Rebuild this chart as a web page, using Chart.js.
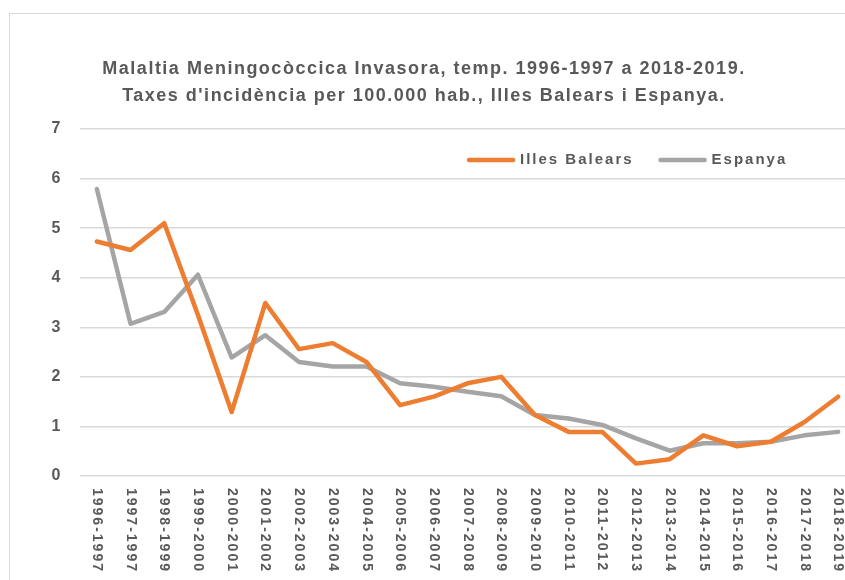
<!DOCTYPE html>
<html>
<head>
<meta charset="utf-8">
<script src="https://cdn.jsdelivr.net/npm/chart.js@4"></script>
<style>
  html, body { margin: 0; width: 845px; height: 580px; overflow: hidden; background: #fff; }
  #frame { position: absolute; left: 9px; top: 13px; width: 900px; height: 700px; border: 1px solid #d9d9d9; overflow: hidden; }
  #chart { position: absolute; left: -17px; top: 0; }
</style>
</head>
<body>
<div id="frame"><canvas id="chart" width="867" height="600"></canvas></div>
<script>
const periods = ["1996-1997", "1997-1997", "1998-1999", "1999-2000", "2000-2001", "2001-2002",
  "2002-2003", "2003-2004", "2004-2005", "2005-2006", "2006-2007", "2007-2008", "2008-2009",
  "2009-2010", "2010-2011", "2011-2012", "2012-2013", "2013-2014", "2014-2015", "2015-2016",
  "2016-2017", "2017-2018", "2018-2019"];
const balears = [4.73, 4.56, 5.10, 3.25, 1.29, 3.49, 2.56, 2.68, 2.30, 1.43, 1.60, 1.87, 2.00,
  1.23, 0.89, 0.89, 0.25, 0.34, 0.82, 0.60, 0.69, 1.09, 1.60];
const espanya = [5.79, 3.07, 3.31, 4.06, 2.39, 2.84, 2.30, 2.21, 2.21, 1.87, 1.80, 1.70, 1.61,
  1.23, 1.16, 1.03, 0.76, 0.51, 0.66, 0.66, 0.69, 0.82, 0.89];
const yTicks = [0, 1, 2, 3, 4, 5, 6, 7];
const titleLines = ["Malaltia Meningocòccica Invasora, temp. 1996-1997 a 2018-2019.",
  "Taxes d'incidència per 100.000 hab., Illes Balears i Espanya."];

const fontFam = "'Liberation Sans', Arial, sans-serif";
const textCol = "#595959";

// x labels read top-to-bottom, legend sits inside the plot
const extras = {
  id: "extras",
  beforeDraw(chart) {
    // spaced-out lettering like the original, used by the title
    chart.ctx.letterSpacing = "1.5px";
  },
  beforeDatasetsDraw(chart) {
    chart.ctx.letterSpacing = "0px";
  },
  afterDraw(chart) {
    const ctx = chart.ctx;
    const xs = chart.scales.x;
    const area = chart.chartArea;
    ctx.save();
    ctx.fillStyle = textCol;
    ctx.font = "bold 14px " + fontFam;
    ctx.letterSpacing = "2px";
    ctx.textAlign = "left";
    ctx.textBaseline = "middle";
    periods.forEach((p, i) => {
      ctx.save();
      ctx.translate(xs.getPixelForTick(i), area.bottom + 12);
      ctx.rotate(Math.PI / 2);
      ctx.fillText(p, 0, 0);
      ctx.restore();
    });
    ctx.restore();

    // legend
    ctx.save();
    ctx.font = "bold 15px " + fontFam;
    ctx.letterSpacing = "2px";
    ctx.textBaseline = "middle";
    ctx.lineCap = "round";
    let x = 476;
    const y = 146;
    chart.data.datasets.forEach(ds => {
      ctx.strokeStyle = ds.borderColor;
      ctx.lineWidth = 4.5;
      ctx.beginPath();
      ctx.moveTo(x, y);
      ctx.lineTo(x + 44, y);
      ctx.stroke();
      x += 51;
      ctx.fillStyle = textCol;
      ctx.fillText(ds.label, x, y);
      x += ctx.measureText(ds.label).width + 27;
    });
    ctx.restore();
    ctx.letterSpacing = "0px";
  }
};

new Chart(document.getElementById("chart"), {
  type: "line",
  data: {
    labels: periods,
    datasets: [
      { label: "Illes Balears", data: balears, borderColor: "#ed7d31", backgroundColor: "#ed7d31" },
      { label: "Espanya", data: espanya, borderColor: "#a5a5a5", backgroundColor: "#a5a5a5" }
    ]
  },
  options: {
    responsive: false,
    animation: false,
    devicePixelRatio: 1,
    layout: { padding: { left: 0, right: 5, top: 0, bottom: 138 } },
    elements: {
      point: { radius: 0 },
      line: { borderWidth: 4.5, tension: 0, borderJoinStyle: "round", borderCapStyle: "round" }
    },
    plugins: {
      legend: { display: false },
      tooltip: { enabled: false },
      title: {
        display: true,
        text: titleLines,
        color: textCol,
        font: { family: fontFam, size: 18, weight: "bold", lineHeight: 1.5 },
        padding: { top: 42, bottom: 19 }
      }
    },
    scales: {
      x: {
        offset: true,
        grid: { display: false, drawTicks: false },
        border: { display: false },
        ticks: { display: false }
      },
      y: {
        min: 0,
        max: 7,
        afterBuildTicks: s => { s.ticks = yTicks.map(v => ({ value: v })); },
        afterFit: s => { s.width = 87; },
        grid: { color: "#d9d9d9", lineWidth: 1.5, drawTicks: false },
        border: { display: false },
        ticks: { color: textCol, padding: 18, font: { family: fontFam, size: 16, weight: "bold" } }
      }
    }
  },
  plugins: [extras]
});
</script>
</body>
</html>
